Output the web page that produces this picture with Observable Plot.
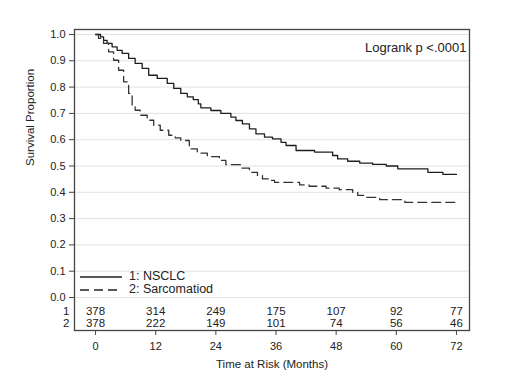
<!DOCTYPE html>
<html>
<head>
<meta charset="utf-8">
<script src="https://cdn.jsdelivr.net/npm/d3@7"></script>
<script src="https://cdn.jsdelivr.net/npm/@observablehq/plot@0.6"></script>
<style>
  html, body { margin: 0; padding: 0; background: #fff; }
  #wrap { position: relative; width: 512px; height: 380px; font-family: "Liberation Sans", Arial, sans-serif; }
  #legend { position: absolute; left: 79px; top: 270px; font-size: 12.5px; color: #222; line-height: 13px; }
  #legend .row { display: flex; align-items: center; height: 13px; }
  #legend svg { margin-right: 6px; }
</style>
</head>
<body>
<div id="wrap"></div>
<script>
// ---- data ----
const seriesNames = ["1: NSCLC", "2: Sarcomatiod"];

const nsclcTime = [0, 1, 1.6, 2.3, 3.3, 4.3, 5.3, 6.6, 7.9, 9.3, 10.6, 12.3, 14.3, 15.6, 17, 18.3, 19.5, 20.5, 21, 23, 25, 27, 28, 29.3, 30.7, 32, 33.7, 35.3, 37, 38, 40, 43.7, 47.3, 48.3, 50.3, 52.7, 55.3, 58, 60.3, 66.3, 69.3, 72];
const nsclcSurv = [1, 0.991, 0.978, 0.966, 0.953, 0.94, 0.928, 0.909, 0.89, 0.871, 0.845, 0.833, 0.814, 0.795, 0.776, 0.763, 0.752, 0.736, 0.721, 0.711, 0.70, 0.686, 0.673, 0.66, 0.641, 0.622, 0.61, 0.603, 0.59, 0.578, 0.559, 0.553, 0.54, 0.527, 0.518, 0.511, 0.506, 0.50, 0.489, 0.476, 0.468, 0.468];

const sarcTime = [0, 0.6, 1.6, 2.6, 3.6, 4.6, 5.6, 6.6, 7.3, 7.9, 8.9, 10.3, 11.6, 12.9, 14.6, 15.9, 17, 18.7, 20.3, 22.3, 24.7, 26, 29, 30.7, 32.3, 33.3, 34.7, 35.7, 40.7, 42.6, 46, 48.6, 51.3, 52.3, 54, 56.7, 61.7, 72];
const sarcSurv = [1, 0.985, 0.966, 0.934, 0.902, 0.864, 0.82, 0.776, 0.731, 0.712, 0.693, 0.674, 0.655, 0.636, 0.617, 0.607, 0.597, 0.565, 0.549, 0.536, 0.521, 0.505, 0.492, 0.476, 0.464, 0.451, 0.445, 0.438, 0.428, 0.423, 0.416, 0.41, 0.40, 0.388, 0.381, 0.372, 0.362, 0.362];

const xTicks = [0, 12, 24, 36, 48, 60, 72];
const yTicks = [0, 0.1, 0.2, 0.3, 0.4, 0.5, 0.6, 0.7, 0.8, 0.9, 1.0];
const atRisk1 = [378, 314, 249, 175, 107, 92, 77];
const atRisk2 = [378, 222, 149, 101, 74, 56, 46];
const rowLabels = ["1", "2"];
const pValueText = "Logrank p <.0001";
const xLabel = "Time at Risk (Months)";
const yLabel = "Survival Proportion";

// ---- build tables ----
const nsclc = nsclcTime.map((t, i) => ({t, s: nsclcSurv[i]}));
const sarc = sarcTime.map((t, i) => ({t, s: sarcSurv[i]}));
const risk1 = xTicks.map((t, i) => ({t, n: atRisk1[i]}));
const risk2 = xTicks.map((t, i) => ({t, n: atRisk2[i]}));

const ROW1 = -0.053, ROW2 = -0.099;
const font = "Liberation Sans, Arial, sans-serif";
const ink = "#222";

const chart = Plot.plot({
  width: 512,
  height: 380,
  marginLeft: 74,
  marginRight: 43,
  marginTop: 29,
  marginBottom: 50,
  style: {fontFamily: font, color: ink, background: "#fff"},
  x: {domain: [-4.2, 74.6], axis: null},
  y: {domain: [-0.1255, 1.019], axis: null},
  marks: [
    Plot.gridY(yTicks, {stroke: "#e2e2e2", strokeOpacity: 1}),
    Plot.lineY(nsclc, {x: "t", y: "s", curve: "step-after", stroke: "#1e1e1e", strokeWidth: 1.3}),
    Plot.lineY(sarc, {x: "t", y: "s", curve: "step-after", stroke: "#333", strokeWidth: 1.3, strokeDasharray: "9,5"}),
    Plot.text(risk1, {x: "t", y: () => ROW1, text: d => String(d.n), fontSize: 11.5, fill: ink}),
    Plot.text(risk2, {x: "t", y: () => ROW2, text: d => String(d.n), fontSize: 11.5, fill: ink}),
    Plot.text(rowLabels, {frameAnchor: "left", y: (d, i) => i === 0 ? ROW1 : ROW2, text: d => d, dx: -5, textAnchor: "end", fontSize: 11.5, fill: ink}),
    Plot.axisY(yTicks, {anchor: "left", tickSize: 5, tickPadding: 4, fontSize: 11, tickFormat: d3.format(".1f"), label: null, stroke: "#444"}),
    Plot.axisX(xTicks, {anchor: "bottom", tickSize: 5, tickPadding: 7, fontSize: 11, label: null, stroke: "#444"}),
    Plot.frame({stroke: "#444", strokeWidth: 1.3}),
    Plot.text([pValueText], {frameAnchor: "top-right", dx: -3, dy: 13, textAnchor: "end", fontSize: 13, fill: ink}),
    Plot.text([xLabel], {frameAnchor: "bottom", dy: 37, fontSize: 11.5, fill: ink}),
    Plot.text([yLabel], {frameAnchor: "left", y: () => 0.5, dx: -44, rotate: -90, fontSize: 11.5, fill: ink})
  ]
});

const wrap = document.getElementById("wrap");
wrap.appendChild(chart);

// legend overlay (inside the plot area, bottom-left)
const legend = document.createElement("div");
legend.id = "legend";
const dashes = ["none", "9,5"];
seriesNames.forEach((name, i) => {
  const row = document.createElement("div");
  row.className = "row";
  row.innerHTML = `<svg width="44" height="12"><line x1="1" x2="43" y1="6" y2="6" stroke="#222" stroke-width="1.3" stroke-dasharray="${dashes[i]}"/></svg><span>${name}</span>`;
  legend.appendChild(row);
});
wrap.appendChild(legend);
</script>
</body>
</html>
